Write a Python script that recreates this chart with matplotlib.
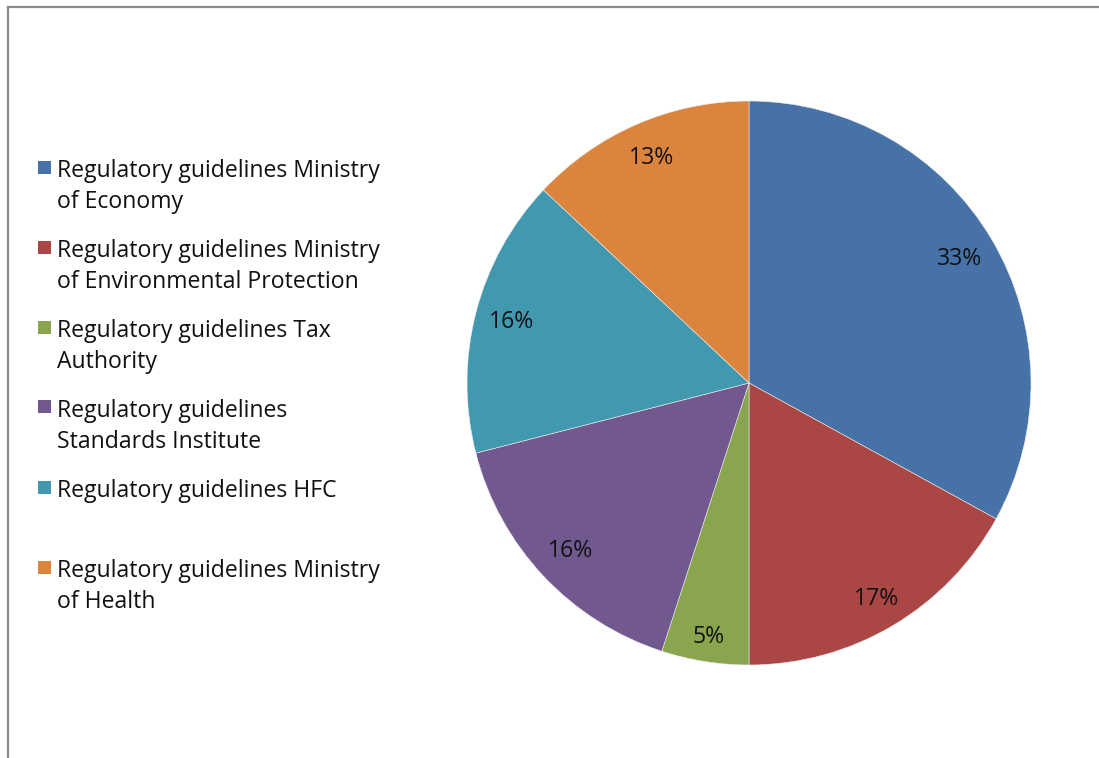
import numpy as np
import matplotlib
matplotlib.use("Agg")
import matplotlib.pyplot as plt
from matplotlib.patches import Rectangle
from matplotlib.lines import Line2D

plt.rcParams['font.family'] = ['Open Sans', 'DejaVu Sans']

# Data
categories = [
    "Regulatory guidelines Ministry\nof Economy",
    "Regulatory guidelines Ministry\nof Environmental Protection",
    "Regulatory guidelines Tax\nAuthority",
    "Regulatory guidelines\nStandards Institute",
    "Regulatory guidelines HFC",
    "Regulatory guidelines Ministry\nof Health",
]
shares = [33, 17, 5, 16, 16, 13]
colors = ["#4672A8", "#AA4644", "#89A54E", "#71588F", "#4298AF", "#DB843D"]
# radial position of each percentage label (fraction of radius)
label_radius = [0.867, 0.888, 0.912, 0.868, 0.870, 0.869]

W, H, DPI = 1099, 758, 100
fig = plt.figure(figsize=(W / DPI, H / DPI), dpi=DPI)
fig.patch.set_facecolor("white")

# Pie axes: centre (749, 383) px, radius 282 px
cx, cy, r = 749, 383, 282
ax = fig.add_axes([(cx - r) / W, (H - cy - r) / H, 2 * r / W, 2 * r / H])
wedges, _ = ax.pie(shares, colors=colors, startangle=90, counterclock=False,
                   radius=1.0, wedgeprops=dict(linewidth=0.4, edgecolor="#eeeeee"))
ax.set_xlim(-1, 1)
ax.set_ylim(-1, 1)
ax.set_aspect("equal")
ax.axis("off")

FS = 16.6
for w, v, lr in zip(wedges, shares, label_radius):
    mid = np.deg2rad((w.theta1 + w.theta2) / 2)
    ax.text(lr * np.cos(mid), lr * np.sin(mid), f"{v}%", ha="center", va="center",
            fontsize=FS, color="#111111")

# Frame lines (top and left)
fig.add_artist(Line2D([7.5 / W, 7.5 / W], [0, 1 - 7 / H], transform=fig.transFigure,
                      color="#8a8a8a", linewidth=1.6))
fig.add_artist(Line2D([7.5 / W, 1], [1 - 7 / H, 1 - 7 / H], transform=fig.transFigure,
                      color="#8a8a8a", linewidth=1.6))

# Legend
item_top = 167   # centre of first marker, px
item_step = 80
sq = 13
text_x = 57
for i, (lab, col) in enumerate(zip(categories, colors)):
    yc = item_top + i * item_step
    fig.add_artist(Rectangle(((44 - sq / 2) / W, 1 - (yc + sq / 2) / H), sq / W, sq / H,
                             transform=fig.transFigure, facecolor=col, edgecolor="none"))
    for j, ln in enumerate(lab.split("\n")):
        fig.text(text_x / W, 1 - (yc + 10 + j * 31) / H, ln, ha="left", va="baseline",
                 fontsize=FS, color="#111111")

fig.savefig("out.png", dpi=DPI, facecolor="white")
